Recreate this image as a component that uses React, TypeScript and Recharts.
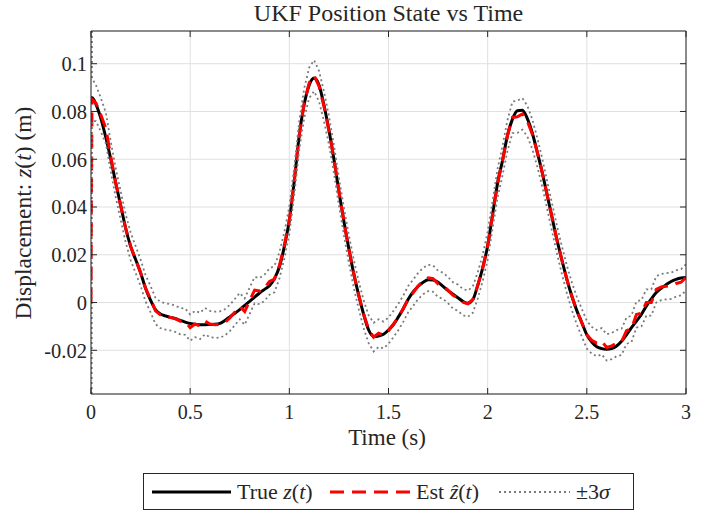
import React from 'react';
import { LineChart, Line, XAxis, YAxis, CartesianGrid } from 'recharts';

const timeS = [
  0, 0.005,
  0.025, 0.05, 0.075, 0.1, 0.125, 0.15, 0.175, 0.2, 0.225, 0.25,
  0.275, 0.3, 0.325, 0.35, 0.375, 0.4, 0.425, 0.45, 0.475, 0.5,
  0.525, 0.55, 0.575, 0.6, 0.625, 0.65, 0.675, 0.7, 0.725, 0.75,
  0.775, 0.8, 0.825, 0.85, 0.875, 0.9, 0.925, 0.95, 0.975, 1.0,
  1.025, 1.05, 1.075, 1.1, 1.125, 1.15, 1.175, 1.2, 1.225, 1.25,
  1.275, 1.3, 1.325, 1.35, 1.375, 1.4, 1.425, 1.45, 1.475, 1.5,
  1.525, 1.55, 1.575, 1.6, 1.625, 1.65, 1.675, 1.7, 1.725, 1.75,
  1.775, 1.8, 1.825, 1.85, 1.875, 1.9, 1.925, 1.95, 1.975, 2.0,
  2.025, 2.05, 2.075, 2.1, 2.125, 2.15, 2.175, 2.2, 2.225, 2.25,
  2.275, 2.3, 2.325, 2.35, 2.375, 2.4, 2.425, 2.45, 2.475, 2.5,
  2.525, 2.55, 2.575, 2.6, 2.625, 2.65, 2.675, 2.7, 2.725, 2.75,
  2.775, 2.8, 2.825, 2.85, 2.875, 2.9, 2.925, 2.95, 2.975, 3.0,
];

const trueZ = [
  0.0857, 0.0857,
  0.0830, 0.0770, 0.0690, 0.0600, 0.0500, 0.0405, 0.0310, 0.0235, 0.0180, 0.0125,
  0.0060, 0.0010, -0.0030, -0.0048, -0.0056, -0.0062, -0.0067, -0.0075, -0.0082, -0.0088,
  -0.0091, -0.0093, -0.0093, -0.0092, -0.0091, -0.0087, -0.0075, -0.0060, -0.0045, -0.0030,
  -0.0012, 0.0005, 0.0023, 0.0040, 0.0055, 0.0070, 0.0100, 0.0150, 0.0235, 0.0345,
  0.0510, 0.0700, 0.0830, 0.0910, 0.0940, 0.0910, 0.0825, 0.0720, 0.0600, 0.0465,
  0.0340, 0.0225, 0.0120, 0.0030, -0.0050, -0.0115, -0.0142, -0.0140, -0.0133, -0.0115,
  -0.0092, -0.0060, -0.0025, 0.0015, 0.0045, 0.0068, 0.0085, 0.0095, 0.0094, 0.0085,
  0.0068, 0.0050, 0.0035, 0.0020, 0.0005, -0.0003, 0.0012, 0.0072, 0.0145, 0.0238,
  0.0370, 0.0500, 0.0595, 0.0700, 0.0768, 0.0803, 0.0805, 0.0770, 0.0710, 0.0630,
  0.0545, 0.0450, 0.0355, 0.0260, 0.0175, 0.0095, 0.0025, -0.0035, -0.0085, -0.0135,
  -0.0165, -0.0185, -0.0193, -0.0196, -0.0193, -0.0182, -0.0162, -0.0135, -0.0105, -0.0078,
  -0.0050, -0.0015, 0.0015, 0.0042, 0.0060, 0.0075, 0.0088, 0.0097, 0.0103, 0.0105,
];

const estZ = [
  0.0, 0.0850,
  0.0835, 0.0785, 0.0730, 0.0610, 0.0500, 0.0405, 0.0310, 0.0235, 0.0180, 0.0125,
  0.0060, 0.0015, -0.0035, -0.0052, -0.0058, -0.0062, -0.0068, -0.0078, -0.0080, -0.0105,
  -0.0090, -0.0098, -0.0078, -0.0090, -0.0093, -0.0092, -0.0083, -0.0065, -0.0040, -0.0015,
  -0.0038, 0.0008, 0.0052, 0.0048, 0.0062, 0.0088, 0.0098, 0.0155, 0.0240, 0.0345,
  0.0510, 0.0700, 0.0835, 0.0920, 0.0950, 0.0905, 0.0820, 0.0720, 0.0600, 0.0465,
  0.0340, 0.0225, 0.0120, 0.0030, -0.0050, -0.0112, -0.0145, -0.0128, -0.0136, -0.0118,
  -0.0090, -0.0060, -0.0025, 0.0015, 0.0042, 0.0070, 0.0090, 0.0103, 0.0100, 0.0078,
  0.0070, 0.0052, 0.0030, 0.0020, 0.0002, -0.0005, 0.0012, 0.0072, 0.0145, 0.0238,
  0.0370, 0.0500, 0.0595, 0.0700, 0.0775, 0.0778, 0.0790, 0.0760, 0.0705, 0.0630,
  0.0545, 0.0450, 0.0355, 0.0260, 0.0175, 0.0095, 0.0025, -0.0035, -0.0085, -0.0135,
  -0.0158, -0.0170, -0.0162, -0.0188, -0.0182, -0.0170, -0.0165, -0.0118, -0.0110, -0.0050,
  -0.0045, 0.0000, 0.0000, 0.0055, 0.0065, 0.0068, 0.0070, 0.0080, 0.0085, 0.0105,
];

const sigma3 = [
  0.3000, 0.0090,
  0.0075, 0.0070, 0.0065, 0.0062, 0.0060, 0.0060, 0.0058, 0.0058, 0.0056, 0.0055,
  0.0055, 0.0055, 0.0055, 0.0055, 0.0055, 0.0055, 0.0055, 0.0055, 0.0055, 0.0055,
  0.0055, 0.0055, 0.0055, 0.0055, 0.0055, 0.0055, 0.0055, 0.0055, 0.0055, 0.0055,
  0.0055, 0.0055, 0.0055, 0.0055, 0.0055, 0.0055, 0.0055, 0.0055, 0.0055, 0.0058,
  0.0058, 0.0060, 0.0062, 0.0064, 0.0065, 0.0064, 0.0062, 0.0060, 0.0058, 0.0058,
  0.0058, 0.0058, 0.0058, 0.0058, 0.0058, 0.0058, 0.0060, 0.0058, 0.0056, 0.0055,
  0.0055, 0.0055, 0.0055, 0.0055, 0.0055, 0.0055, 0.0055, 0.0055, 0.0055, 0.0055,
  0.0055, 0.0055, 0.0055, 0.0055, 0.0055, 0.0055, 0.0055, 0.0055, 0.0055, 0.0058,
  0.0058, 0.0060, 0.0062, 0.0064, 0.0066, 0.0068, 0.0066, 0.0064, 0.0062, 0.0060,
  0.0058, 0.0058, 0.0058, 0.0058, 0.0058, 0.0058, 0.0058, 0.0058, 0.0058, 0.0058,
  0.0056, 0.0055, 0.0055, 0.0055, 0.0055, 0.0055, 0.0055, 0.0055, 0.0055, 0.0055,
  0.0055, 0.0055, 0.0055, 0.0055, 0.0055, 0.0055, 0.0055, 0.0055, 0.0055, 0.0055,
];

const xTicks = [0, 0.5, 1, 1.5, 2, 2.5, 3];
const xTickLabels = ['0', '0.5', '1', '1.5', '2', '2.5', '3'];
const yTicks = [-0.02, 0, 0.02, 0.04, 0.06, 0.08, 0.1];
const yTickLabels = ['-0.02', '0', '0.02', '0.04', '0.06', '0.08', '0.1'];
const xDomain = [0, 3];
const yDomain = [-0.0383, 0.1137];

const titleText = 'UKF Position State vs Time';
const xLabelText = 'Time (s)';

const data = timeS.map((t, i) => ({
  t,
  truth: trueZ[i],
  est: estZ[i],
  upper: estZ[i] + sigma3[i],
  lower: estZ[i] - sigma3[i],
}));

const FONT = '"Liberation Serif", "Times New Roman", serif';
const AX = '#262626';
const TRUE_C = '#000000';
const EST_C = '#ff0000';
const SIG_C = '#7a7a7a';
const EST_DASH = '14 8';
const SIG_DASH = '2 3';

const fmtX = (v: number) => {
  const i = xTicks.indexOf(v);
  return i >= 0 ? xTickLabels[i] : String(v);
};
const fmtY = (v: number) => {
  const i = yTicks.findIndex((k) => Math.abs(k - v) < 1e-9);
  return i >= 0 ? yTickLabels[i] : String(v);
};
const blank = () => '';

export default function App() {
  return (
    <div style={{ position: 'absolute', left: 0, top: 0, width: 710, height: 511, background: '#fff' }}>
      <LineChart
        width={710}
        height={511}
        data={data}
        margin={{ top: 30, right: 23, bottom: 87, left: 0 }}
      >
        <CartesianGrid stroke="#e0e0e0" strokeWidth={1} />
        <XAxis
          dataKey="t"
          type="number"
          domain={xDomain}
          ticks={xTicks}
          interval={0}
          allowDataOverflow
          tickFormatter={fmtX}
          tickSize={-6}
          tickMargin={17}
          height={30}
          axisLine={{ stroke: AX, strokeWidth: 1 }}
          tickLine={{ stroke: AX, strokeWidth: 1 }}
          tick={{ fill: AX, fontSize: 20, fontFamily: FONT }}
        />
        <XAxis
          xAxisId="top"
          orientation="top"
          dataKey="t"
          type="number"
          domain={xDomain}
          ticks={xTicks}
          interval={0}
          allowDataOverflow
          tickSize={-6}
          height={1}
          axisLine={{ stroke: AX, strokeWidth: 1 }}
          tickLine={{ stroke: AX, strokeWidth: 1 }}
          tickFormatter={blank}
          tick={{ fontSize: 1 }}
        />
        <YAxis
          type="number"
          domain={yDomain}
          ticks={yTicks}
          interval={0}
          allowDataOverflow
          tickFormatter={fmtY}
          tickSize={-6}
          tickMargin={10}
          width={91}
          axisLine={{ stroke: AX, strokeWidth: 1 }}
          tickLine={{ stroke: AX, strokeWidth: 1 }}
          tick={{ fill: AX, fontSize: 20.5, fontFamily: FONT }}
        />
        <YAxis
          yAxisId="right"
          orientation="right"
          type="number"
          domain={yDomain}
          ticks={yTicks}
          interval={0}
          allowDataOverflow
          tickSize={-6}
          width={1}
          axisLine={{ stroke: AX, strokeWidth: 1 }}
          tickLine={{ stroke: AX, strokeWidth: 1 }}
          tickFormatter={blank}
          tick={{ fontSize: 1 }}
        />
        <Line
          dataKey="truth"
          type="monotone"
          stroke={TRUE_C}
          strokeWidth={3}
          dot={false}
          activeDot={false}
          isAnimationActive={false}
        />
        <Line
          dataKey="est"
          type="linear"
          stroke={EST_C}
          strokeWidth={3}
          strokeDasharray={EST_DASH}
          dot={false}
          activeDot={false}
          isAnimationActive={false}
        />
        <Line
          dataKey="upper"
          type="linear"
          stroke={SIG_C}
          strokeWidth={1.8}
          strokeDasharray={SIG_DASH}
          dot={false}
          activeDot={false}
          isAnimationActive={false}
        />
        <Line
          dataKey="lower"
          type="linear"
          stroke={SIG_C}
          strokeWidth={1.8}
          strokeDasharray={SIG_DASH}
          dot={false}
          activeDot={false}
          isAnimationActive={false}
        />
      </LineChart>
      <svg
        width={710}
        height={511}
        style={{ position: 'absolute', left: 0, top: 0, pointerEvents: 'none' }}
        fontFamily={FONT}
      >
        <text x={388.5} y={21} textAnchor="middle" fontSize={24} fill={AX}>
          {titleText}
        </text>
        <text x={387} y={445} textAnchor="middle" fontSize={23} fill={AX}>
          {xLabelText}
        </text>
        <text x={31} y={213} textAnchor="middle" fontSize={23.5} fill={AX} transform="rotate(-90 31 213)">
          Displacement: <tspan fontStyle="italic">z</tspan>(<tspan fontStyle="italic">t</tspan>) (m)
        </text>
        <rect x={143.5} y={473.5} width={490} height={36} fill="#fff" stroke={AX} strokeWidth={1} />
        <line x1={152} y1={492} x2={231} y2={492} stroke={TRUE_C} strokeWidth={3} />
        <text x={237} y={498.5} fontSize={22} fill={AX}>
          True <tspan fontStyle="italic">z</tspan>(<tspan fontStyle="italic">t</tspan>)
        </text>
        <line x1={330} y1={492} x2={410} y2={492} stroke={EST_C} strokeWidth={3} strokeDasharray={EST_DASH} />
        <text x={416} y={498.5} fontSize={22} fill={AX}>
          Est <tspan fontStyle="italic">ẑ</tspan>(<tspan fontStyle="italic">t</tspan>)
        </text>
        <line x1={499} y1={492} x2={570} y2={492} stroke={SIG_C} strokeWidth={1.8} strokeDasharray={SIG_DASH} />
        <text x={576} y={498.5} fontSize={22} fill={AX}>
          ±3<tspan fontStyle="italic">σ</tspan>
        </text>
      </svg>
    </div>
  );
}
